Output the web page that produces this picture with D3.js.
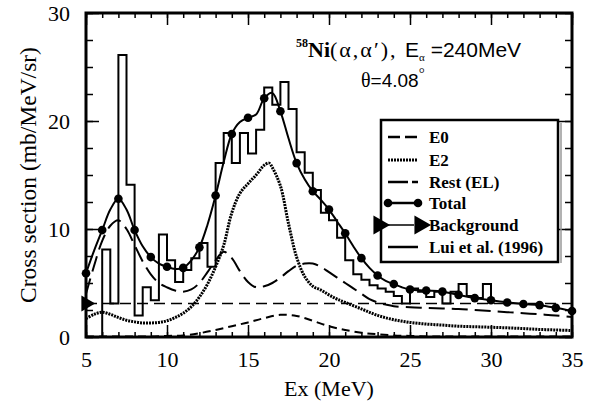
<!DOCTYPE html>
<html>
<head>
<meta charset="utf-8">
<script src="https://cdn.jsdelivr.net/npm/d3@7"></script>
<style>
  body { margin: 0; background: #fff; }
  svg { display: block; }
  .tick text { font-family: "Liberation Serif", serif; font-size: 22px; fill: #000; }
  .tick line { stroke: #000; stroke-width: 1.5; }
</style>
</head>
<body>
<div id="chart"></div>
<script>
// data
var histStart = d3.range(6, 30, 0.5);
var histVals = [8.1, 3.1, 26.1, 14.1, 2.0, 4.6, 3.4, 9.5, 7.1, 5.1, 6.2, 7.3, 8.7, 6.5,
  16.1, 18.9, 16.1, 18.9, 17.0, 19.2, 23.1, 21.5, 23.6, 21.1, 17.1, 15.2, 13.6, 11.5,
  10.8, 9.2, 7.1, 5.8, 5.3, 4.8, 4.5, 4.2, 3.8, 3.1, 4.5, 4.2, 3.7, 4.2, 3.1, 4.2,
  4.9, 3.8, 3.6, 4.9];
var histEnd = [30, 3.1];

var totalPtsE = d3.range(5, 36, 1);
var totalPtsV = [5.9, 9.9, 12.8, 9.9, 7.4, 6.5, 6.4, 8.3, 13.1, 18.8, 20.3, 22.1, 20.9,
  16.1, 13.5, 11.8, 9.6, 7.3, 5.7, 4.9, 4.4, 4.3, 4.2, 3.9, 3.6, 3.4, 3.2, 3.05, 2.95, 2.7, 2.4];

var totalLineE = [5, 5.5, 6, 6.5, 7, 7.5, 8, 8.5, 9, 9.5, 10, 10.5, 11, 11.5, 12, 12.5, 13, 13.5,
  14, 14.5, 15, 15.5, 16, 16.5, 17, 17.5, 18, 18.5, 19, 19.5, 20, 20.5, 21, 21.5, 22, 22.5,
  23, 23.5, 24, 24.5, 25, 26, 27, 28, 29, 30, 31, 32, 33, 34, 35];
var totalLineV = [5.9, 8.0, 9.9, 11.8, 12.8, 11.8, 9.9, 8.4, 7.4, 6.8, 6.5, 6.3, 6.4, 7.1, 8.3, 10.4,
  13.1, 16.2, 18.8, 19.9, 20.3, 20.6, 22.1, 22.6, 20.9, 18.4, 16.1, 14.6, 13.5, 12.7, 11.8, 10.7,
  9.6, 8.4, 7.3, 6.4, 5.7, 5.2, 4.9, 4.6, 4.4, 4.3, 4.2, 3.9, 3.6, 3.4, 3.2, 3.05, 2.95, 2.7, 2.4];

var e2E = [5, 5.5, 6, 6.5, 7, 7.5, 8, 8.5, 9, 9.5, 10, 10.5, 11, 11.5, 12, 12.5, 13, 13.5, 14, 14.5,
  15, 15.5, 16, 16.3, 16.5, 17, 17.5, 18, 18.5, 19, 19.5, 20, 20.5, 21, 22, 23, 24, 25, 26, 27,
  28, 29, 30, 31, 32, 33, 34, 35];
var e2V = [1.7, 2.1, 2.3, 2.1, 1.8, 1.55, 1.4, 1.3, 1.3, 1.35, 1.5, 1.8, 2.2, 2.8, 3.7, 4.9, 6.5,
  8.5, 11.5, 13.3, 14.2, 15.0, 15.9, 16.1, 15.7, 14.0, 10.5, 7.4, 5.6, 4.7, 4.35, 3.9, 3.5, 3.2,
  2.6, 2.0, 1.6, 1.35, 1.2, 1.1, 1.0, 0.95, 0.9, 0.85, 0.78, 0.7, 0.65, 0.6];

var restE = [5, 5.5, 6, 6.5, 7, 7.5, 8, 8.5, 9, 9.5, 10, 10.5, 11, 11.5, 12, 12.5, 13, 13.5, 14, 14.5,
  15, 15.5, 16, 16.5, 17, 17.5, 18, 18.5, 19, 19.5, 20, 20.5, 21, 21.5, 22, 22.5, 23, 23.5, 24,
  25, 26, 27, 28, 29, 30, 31, 32, 33, 34, 35];
var restV = [4.0, 6.6, 8.9, 10.3, 10.8, 10.0, 8.5, 7.0, 5.8, 5.0, 4.6, 4.3, 4.2, 4.4, 5.0, 6.0, 7.1,
  7.9, 7.3, 6.1, 5.1, 4.6, 4.7, 5.0, 5.5, 6.1, 6.6, 6.8, 6.8, 6.5, 6.0, 5.5, 5.0, 4.5, 4.0, 3.5,
  3.2, 3.0, 2.85, 2.75, 2.7, 2.65, 2.6, 2.5, 2.4, 2.3, 2.2, 2.1, 2.0, 1.85];

var e0E = d3.range(5, 36, 1);
var e0V = [0.05, 0.05, 0.05, 0.05, 0.05, 0.1, 0.15, 0.35, 0.65, 1.0, 1.35, 1.75, 2.05, 1.95, 1.5,
  1.0, 0.65, 0.4, 0.25, 0.15, 0.1, 0.05, 0.05, 0.05, 0.05, 0.05, 0.05, 0.05, 0.05, 0.05, 0.05];

var bgE = [5, 35];
var bgV = [3.1, 3.1];

var xMajor = [5, 10, 15, 20, 25, 30, 35];
var yMajor = [0, 10, 20, 30];
var legendLabels = ["E0", "E2", "Rest (EL)", "Total", "Background", "Lui et al. (1996)"];

// layout
var svgWidth = 597, svgHeight = 405;
var margin = { top: 13, right: 25, bottom: 68, left: 86 };
var width = svgWidth - margin.left - margin.right;
var height = svgHeight - margin.top - margin.bottom;

var svg = d3.select("#chart").append("svg")
  .attr("width", svgWidth).attr("height", svgHeight);

var g = svg.append("g").attr("transform", `translate(${margin.left},${margin.top})`);

var x = d3.scaleLinear().domain([5, 35]).range([0, width]);
var y = d3.scaleLinear().domain([0, 30]).range([height, 0]);

svg.append("defs").append("clipPath").attr("id", "clip")
  .append("rect").attr("width", width).attr("height", height);

// axes, ticks inward
function addAxis(axis, tr) {
  var a = g.append("g").attr("transform", tr).call(axis);
  a.select(".domain").remove();
  return a;
}
addAxis(d3.axisBottom(x).tickValues(d3.range(5, 36, 1)).tickSize(-5).tickFormat(""), `translate(0,${height})`);
addAxis(d3.axisBottom(x).tickValues(xMajor).tickSize(-12).tickPadding(14).tickFormat(d3.format("d")), `translate(0,${height})`);
addAxis(d3.axisTop(x).tickValues(d3.range(5, 36, 1)).tickSize(-5).tickFormat(""), "translate(0,0)");
addAxis(d3.axisTop(x).tickValues(xMajor).tickSize(-12).tickFormat(""), "translate(0,0)");
addAxis(d3.axisLeft(y).tickValues(d3.range(0, 30.1, 2.5)).tickSize(-7).tickFormat(""), "translate(0,0)");
addAxis(d3.axisLeft(y).tickValues(yMajor).tickSize(-13).tickPadding(16).tickFormat(d3.format("d")), "translate(0,0)");
addAxis(d3.axisRight(y).tickValues(d3.range(0, 30.1, 2.5)).tickSize(-7).tickFormat(""), `translate(${width},0)`);
addAxis(d3.axisRight(y).tickValues(yMajor).tickSize(-13).tickFormat(""), `translate(${width},0)`);

var plot = g.append("g").attr("clip-path", "url(#clip)");

function xy(es, vs) { return es.map(function(e, i) { return [e, vs[i]]; }); }

var smooth = d3.line().x(d => x(d[0])).y(d => y(d[1])).curve(d3.curveCatmullRom.alpha(0.5));
var straight = d3.line().x(d => x(d[0])).y(d => y(d[1]));

// Lui et al. histogram
var histPts = [[6, 0]].concat(xy(histStart, histVals)).concat([histEnd]);
plot.append("path")
  .attr("d", d3.line().x(d => x(d[0])).y(d => y(d[1])).curve(d3.curveStepAfter)(histPts))
  .attr("fill", "none").attr("stroke", "#000").attr("stroke-width", 2);

// background
plot.append("path").attr("d", straight(xy(bgE, bgV)))
  .attr("fill", "none").attr("stroke", "#000").attr("stroke-width", 1.5)
  .attr("stroke-dasharray", "11,6");

// E0
plot.append("path").attr("d", smooth(xy(e0E, e0V)))
  .attr("fill", "none").attr("stroke", "#000").attr("stroke-width", 2)
  .attr("stroke-dasharray", "8,5");

// E2
plot.append("path").attr("d", smooth(xy(e2E, e2V)))
  .attr("fill", "none").attr("stroke", "#000").attr("stroke-width", 3)
  .attr("stroke-dasharray", "2,1");

// Rest (EL)
plot.append("path").attr("d", smooth(xy(restE, restV)))
  .attr("fill", "none").attr("stroke", "#000").attr("stroke-width", 2)
  .attr("stroke-dasharray", "16,7");

// Total
plot.append("path").attr("d", smooth(xy(totalLineE, totalLineV)))
  .attr("fill", "none").attr("stroke", "#000").attr("stroke-width", 2);

g.selectAll(".tot").data(xy(totalPtsE, totalPtsV)).enter().append("circle")
  .attr("cx", d => x(d[0])).attr("cy", d => y(d[1])).attr("r", 4.3).attr("fill", "#000");

// background marker at the left axis
g.append("path")
  .attr("d", d3.symbol().type(d3.symbolTriangle).size(110)())
  .attr("transform", `translate(${x(bgE[0])},${y(bgV[0])}) rotate(90)`)
  .attr("fill", "#000");

// frame
g.append("rect").attr("width", width).attr("height", height)
  .attr("fill", "none").attr("stroke", "#000").attr("stroke-width", 3);

// axis titles
svg.append("text")
  .attr("transform", `translate(36,${margin.top + height / 2}) rotate(-90)`)
  .attr("text-anchor", "middle")
  .style("font-family", "Liberation Serif, serif").style("font-size", "23.5px")
  .text("Cross section (mb/MeV/sr)");

svg.append("text")
  .attr("x", margin.left + width / 2).attr("y", 396)
  .attr("text-anchor", "middle")
  .style("font-family", "Liberation Serif, serif").style("font-size", "22px")
  .text("Ex (MeV)");

// reaction label
var t1 = svg.append("text").attr("x", 296).attr("y", 57).style("font-size", "22px");
t1.append("tspan").attr("dy", -10).style("font-family", "Liberation Serif").style("font-weight", "bold").style("font-size", "12px").text("58");
t1.append("tspan").attr("dy", 10).style("font-family", "Liberation Serif").style("font-weight", "bold").text("Ni");
t1.append("tspan").style("font-family", "Liberation Serif").style("letter-spacing", "2px").text("(α,α′), ");
t1.append("tspan").style("font-family", "Liberation Sans").style("font-size", "21px").text("E");
t1.append("tspan").attr("dy", 4).style("font-family", "Liberation Serif").style("font-size", "11px").text("α");
t1.append("tspan").attr("dy", -4).style("font-family", "Liberation Sans").style("font-size", "21px").text(" =240MeV");

var t2 = svg.append("text").attr("x", 361).attr("y", 87).style("font-size", "20px");
t2.append("tspan").style("font-family", "Liberation Serif").text("θ");
t2.append("tspan").style("font-family", "Liberation Sans").style("font-size", "19px").text("=4.08");
t2.append("tspan").attr("dy", -9).style("font-family", "Liberation Serif").style("font-size", "15px").text("°");

// legend
var lg = svg.append("g");
lg.append("rect").attr("x", 381).attr("y", 120).attr("width", 177).attr("height", 142)
  .attr("fill", "#fff").attr("stroke", "#000").attr("stroke-width", 2.5);
lg.append("line").attr("x1", 561).attr("x2", 561).attr("y1", 123).attr("y2", 263)
  .attr("stroke", "#999").attr("stroke-width", 1.5);

var rowY = [137, 160, 182, 203, 225, 247];
var x0 = 388, x1 = 418;
function sample(i, dash, w) {
  lg.append("line").attr("x1", x0).attr("x2", x1).attr("y1", rowY[i]).attr("y2", rowY[i])
    .attr("stroke", "#000").attr("stroke-width", w).attr("stroke-dasharray", dash);
}
sample(0, "12,5", 2.5);
sample(1, "2,1", 3);
sample(2, "20,4,6,100", 2.5);
sample(3, null, 2.5);
lg.selectAll(".lc").data([x0, x1]).enter().append("circle")
  .attr("cx", d => d).attr("cy", rowY[3]).attr("r", 4.3).attr("fill", "#000");
lg.append("line").attr("x1", 380).attr("x2", 414).attr("y1", rowY[4]).attr("y2", rowY[4])
  .attr("stroke", "#000").attr("stroke-width", 1.5);
lg.selectAll(".lt").data([379, 420]).enter().append("path")
  .attr("d", d3.symbol().type(d3.symbolTriangle).size(160)())
  .attr("transform", d => `translate(${d},${rowY[4]}) rotate(90)`)
  .attr("fill", "#000");
sample(5, null, 2.5);

lg.selectAll(".ltx").data(legendLabels).enter().append("text")
  .attr("x", 429).attr("y", (d, i) => rowY[i]).attr("dy", "0.35em")
  .style("font-family", "Liberation Serif, serif").style("font-weight", "bold").style("font-size", "17px")
  .text(d => d);
</script>
</body>
</html>
